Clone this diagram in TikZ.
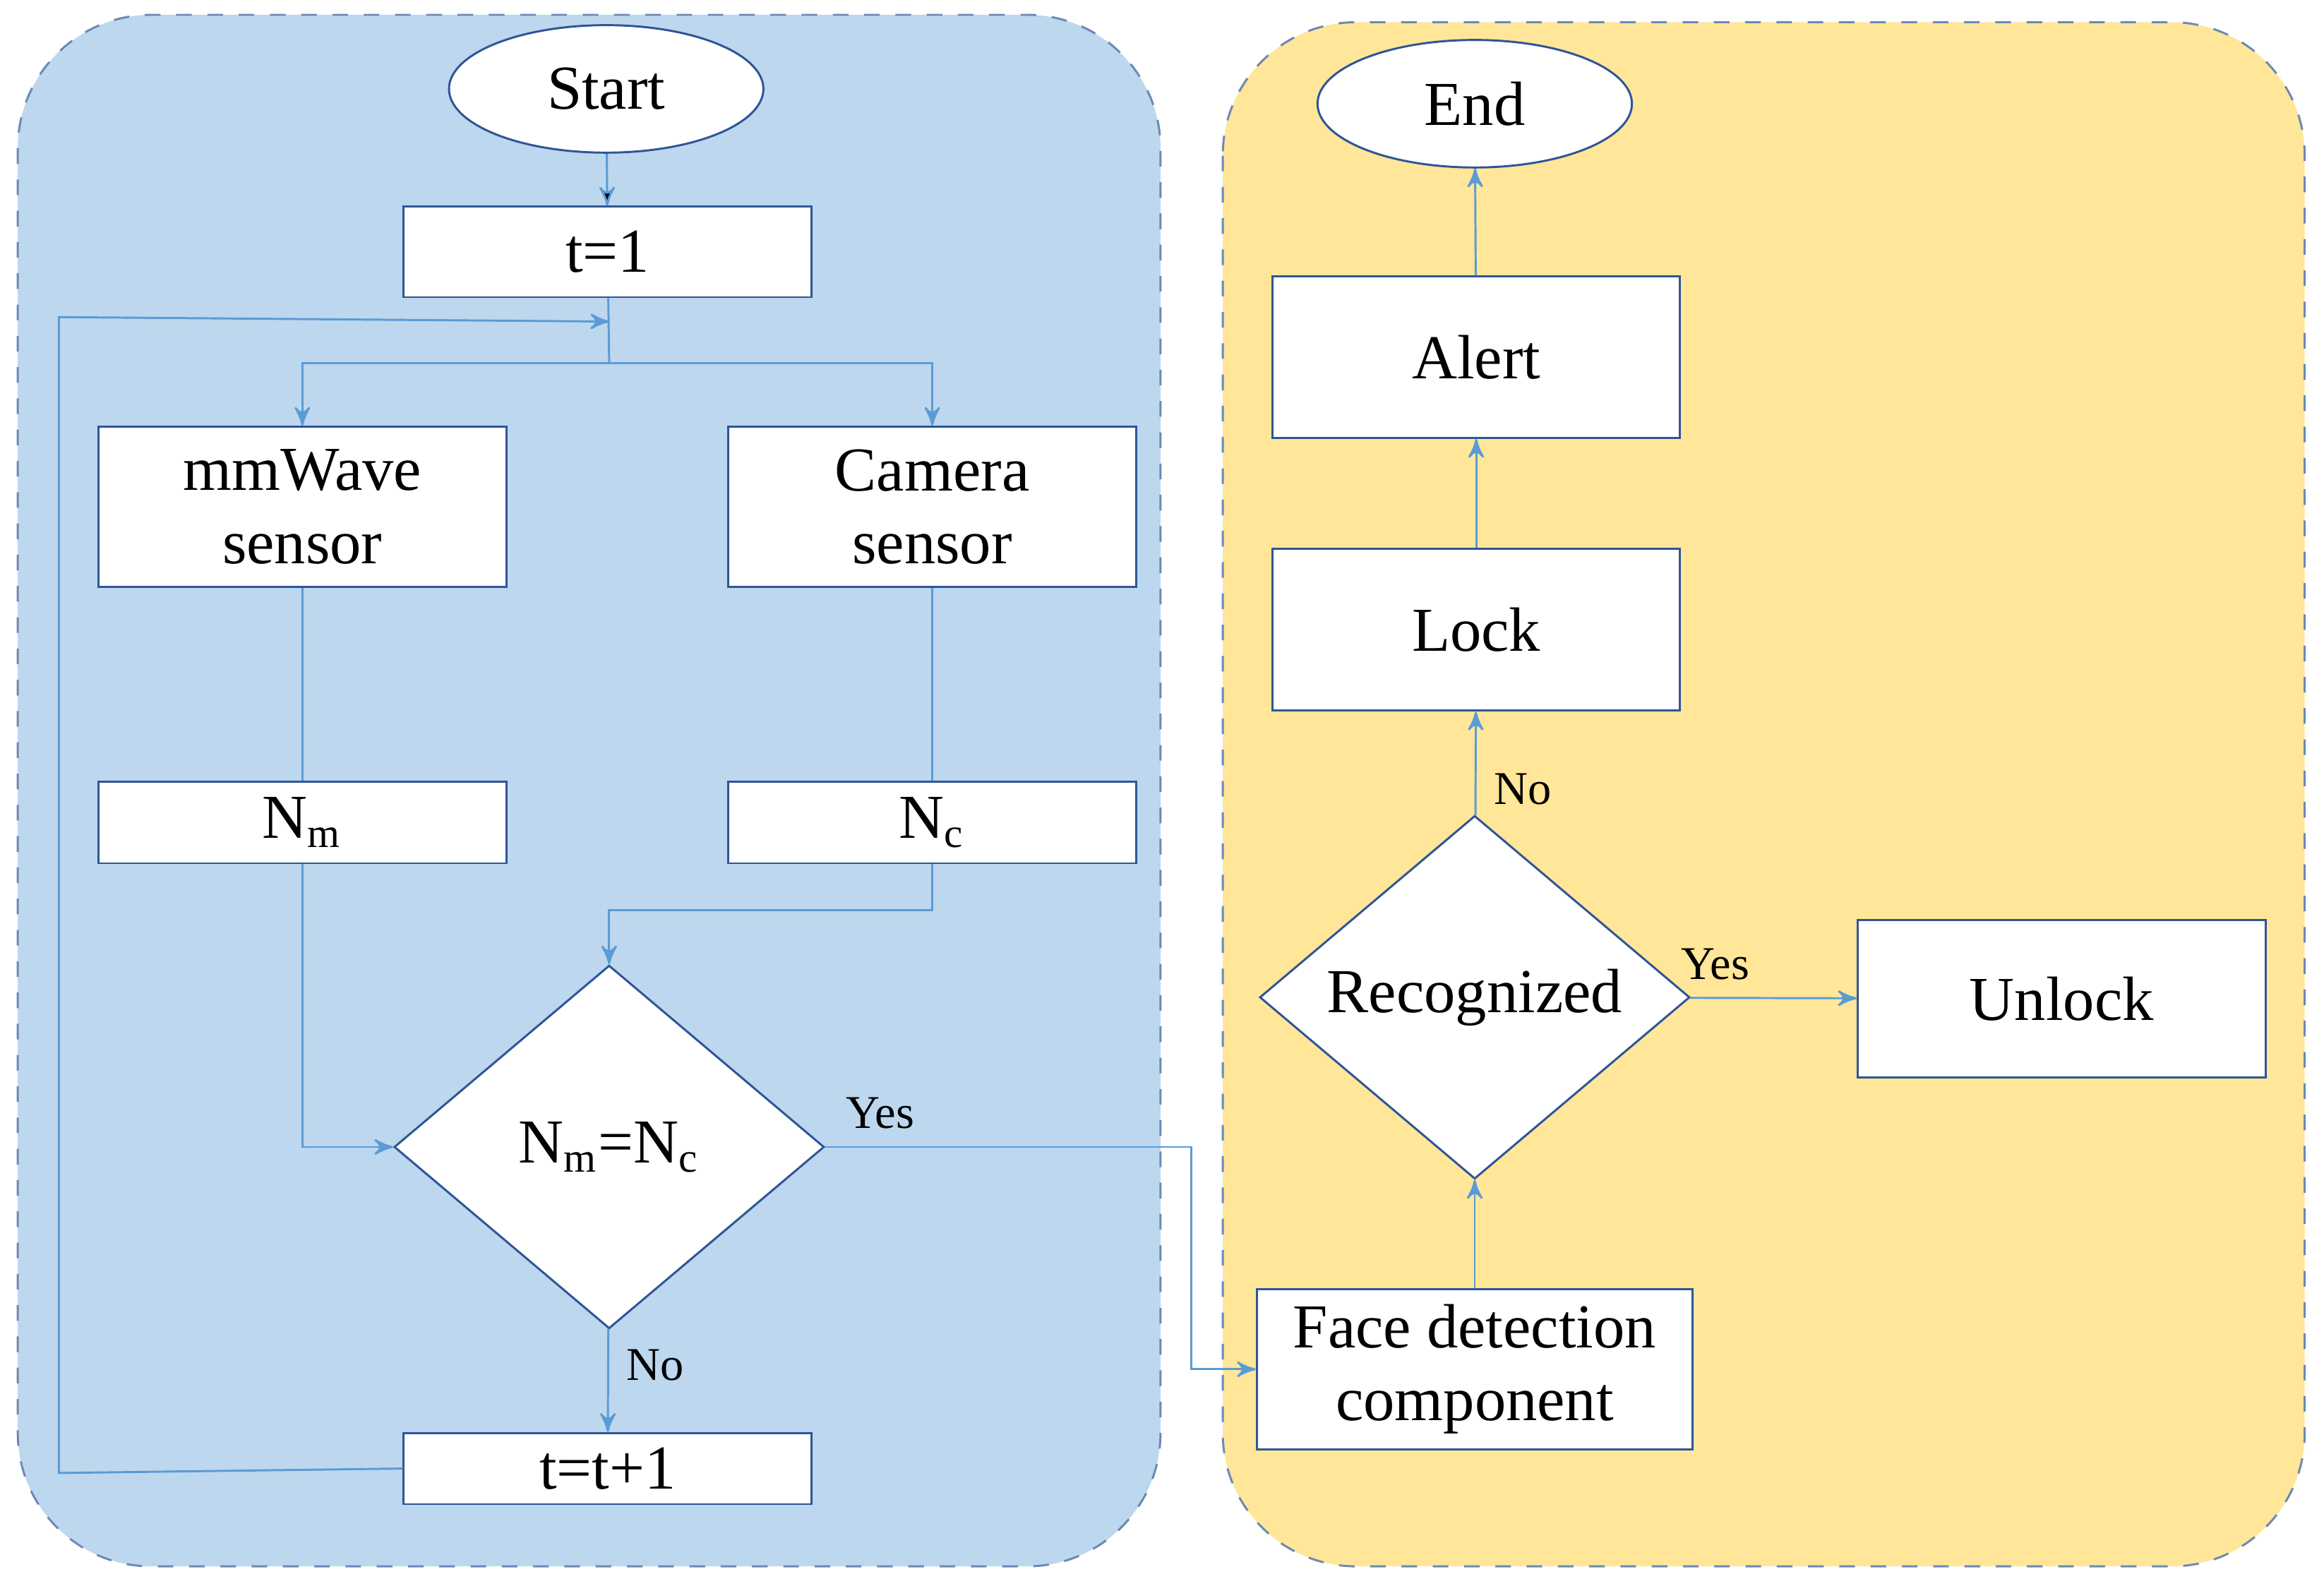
\documentclass[tikz,border=0pt]{standalone}
\usepackage{fontspec}
\setmainfont{Liberation Serif}
\usetikzlibrary{arrows,shapes,positioning}
\definecolor{panelblue}{RGB}{189,215,238}
\definecolor{panelyellow}{RGB}{255,230,153}
\definecolor{flow}{RGB}{91,155,213}
\definecolor{edgeblue}{RGB}{47,85,151}
\begin{document}
\begin{tikzpicture}[x=0.01cm,y=-0.01cm,>=stealth',font=\fontsize{12}{14}\selectfont,
panel/.style={draw=edgeblue!70,dashed,rounded corners=0.9cm},
box/.style={draw=edgeblue,fill=white,minimum width=2.75cm,align=center,inner sep=0pt},
term/.style={ellipse,draw=edgeblue,fill=white,minimum width=2.12cm,minimum height=0.86cm},
choice/.style={diamond,draw=edgeblue,fill=white,minimum width=2.9cm,minimum height=2.45cm,inner sep=0pt},
line/.style={draw=flow,thin},
lbl/.style={font=\fontsize{9}{10}\selectfont}]
\useasboundingbox (0,0) rectangle (1568,1070);
\fill[panelblue] (12,10) [rounded corners=0.9cm] rectangle (783,1057);
\draw[panel] (12,10) rectangle (783,1057);
\fill[panelyellow] (825,15) [rounded corners=0.9cm] rectangle (1555,1057);
\draw[panel] (825,15) rectangle (1555,1057);
% left part
\node[term] (start) at (409,60) {Start};
\node[box,minimum height=0.61cm] (t1) at (410,170) {t=1};
\node[box,minimum height=1.08cm] (mmw) at (204,342) {mmWave\\sensor};
\node[box,minimum height=1.08cm] (cam) at (629,342) {Camera\\sensor};
\node[box,minimum height=0.55cm] (nm) at (204,555) {N\textsubscript{m}};
\node[box,minimum height=0.55cm] (nc) at (629,555) {N\textsubscript{c}};
\node[choice] (eq) at (411,774) {N\textsubscript{m}=N\textsubscript{c}};
\node[box,minimum height=0.48cm] (tt) at (410,991) {t=t+1};
\coordinate (split) at (411,245);
\coordinate (back) at (411,217);
% right part
\node[box,minimum width=2.94cm,minimum height=1.08cm] (face) at (995,924) {Face detection\\component};
\node[choice] (rec) at (995,673) {Recognized};
\node[box,minimum height=1.06cm] (unlock) at (1391,674) {Unlock};
\node[box,minimum height=1.09cm] (lock) at (996,425) {Lock};
\node[box,minimum height=1.09cm] (alert) at (996,241) {Alert};
\node[term] (end) at (995,70) {End};

\path[line,->] (start) edge (t1);
\draw[line] (t1) -- (split);
\draw[line,->] (split) -| (mmw);
\draw[line,->] (split) -| (cam);
\draw[line] (mmw) -- (nm);
\draw[line] (cam) -- (nc);
\draw[line,->] (nm.south) |- (eq.west);
\draw[line,->] (nc.south) -- ++(0,31) -| (eq.north);
\draw[line,->] (eq) -- node[lbl,right,pos=0.35] {No} (tt);
\draw[line,->] (tt.west) -- ++(-232,3) -- ++(0,-780) -- (back);
\draw[line,->] (eq.east) -- node[lbl,above,pos=0.15] {Yes} ++(247,0) |- (face.west);
\draw[line,->] (face) -- (rec);
\draw[line,->] (rec) -- node[lbl,above,pos=0.15] {Yes} (unlock);
\draw[line,->] (rec) -- node[lbl,right,pos=0.25] {No} (lock);
\draw[line,->] (lock) -- (alert);
\draw[line,->] (alert) -- (end);
\end{tikzpicture}
\end{document}
